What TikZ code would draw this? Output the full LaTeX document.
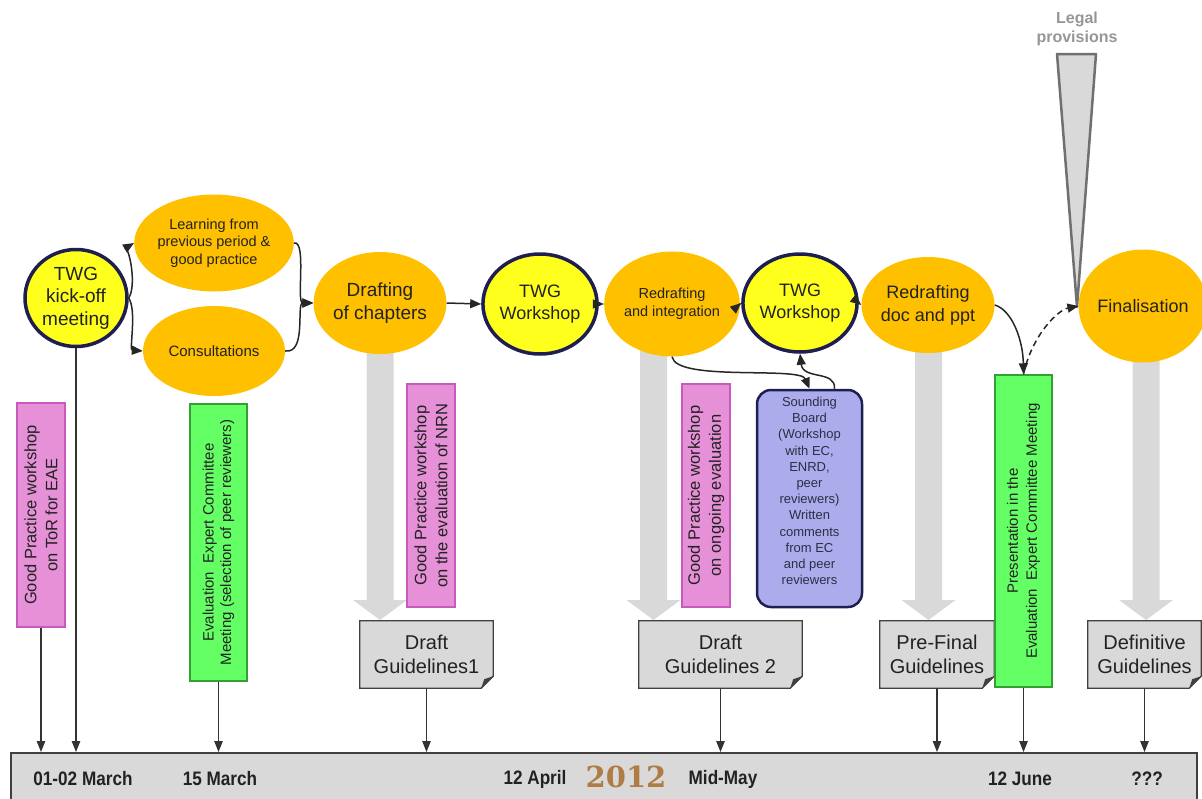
\documentclass[tikz,border=0pt]{standalone}
\usepackage{fontspec}
\setmainfont{Liberation Sans}
\newfontfamily\narrowfont[FakeStretch=0.88]{Liberation Sans}
\newfontfamily\yearfont{DejaVu Serif}
\usetikzlibrary{shapes.geometric,arrows.meta,backgrounds}
\definecolor{navy}{RGB}{30,30,80}
\definecolor{yel}{RGB}{255,255,30}
\definecolor{gold}{RGB}{255,192,0}
\definecolor{pinkf}{RGB}{230,145,215}
\definecolor{pinkd}{RGB}{200,90,190}
\definecolor{greenf}{RGB}{100,255,100}
\definecolor{greend}{RGB}{50,160,50}
\definecolor{lav}{RGB}{172,172,236}
\definecolor{lgray}{RGB}{217,217,217}
\definecolor{dgray}{RGB}{64,64,64}
\definecolor{tric}{RGB}{112,112,112}
\definecolor{yearc}{RGB}{176,124,70}
\definecolor{legalc}{RGB}{150,150,150}
\definecolor{txt}{RGB}{34,34,34}
\definecolor{sbtxt}{RGB}{45,45,70}
\newcommand\fs[2]{\fontsize{#1}{#2}\selectfont}
\newcommand\gblock[2]{\fill[lgray] ({#1-13.5},#2) -- ({#1+13.5},#2) -- ({#1+13.5},600) -- ({#1+27},600) -- (#1,620) -- ({#1-27},600) -- ({#1-13.5},600) -- cycle;}
\newcommand\docshape[1]{\begin{scope}[on background layer]
\filldraw[fill=lgray, draw=dgray, line width=1.3pt] (#1.north west) -- (#1.north east) -- ([yshift=12pt]#1.south east) -- ([xshift=-12pt]#1.south east) -- (#1.south west) -- cycle;
\fill[dgray] ([yshift=12pt]#1.south east) -- ([xshift=-12pt]#1.south east) -- ([xshift=-9pt,yshift=9pt]#1.south east) -- cycle;
\end{scope}}
\begin{document}
\begin{tikzpicture}[x=1pt,y=-1pt,
  yelnode/.style={ellipse, fill=yel, draw=navy, line width=3.5pt, inner sep=0pt, align=center, text=txt},
  ornode/.style={ellipse, fill=gold, inner sep=0pt, align=center, text=txt},
  arr/.style={-{Triangle[length=11pt,width=9pt]}, line width=1.5pt, draw=black!85},
  tlarr/.style={-{Triangle[length=11pt,width=8.5pt]}, line width=1.1pt, draw=black!80},
  vbox/.style={rectangle, rotate=90, align=center, inner sep=0pt, line width=1.5pt, text=txt},
  pinkbox/.style={vbox, fill=pinkf, draw=pinkd, font=\fs{16.5}{21}},
  greenbox/.style={vbox, fill=greenf, draw=greend, font=\fs{15}{18.5}},
  docnode/.style={rectangle, inner sep=0pt, align=center, text=txt, font=\fs{20}{24}},
  sbox/.style={rectangle, rounded corners=14pt, fill=lav, draw=navy, line width=2.5pt},
  timebar/.style={rectangle, fill=lgray, draw=dgray, line width=1.5pt},
  tlabel/.style={font=\narrowfont\bfseries\fs{19.5}{22}, text=txt, inner sep=0pt}]
\useasboundingbox (0,0) rectangle (1202,798);

% block arrows (behind)
\gblock{380}{320}
\gblock{653.5}{330}
\gblock{928.5}{330}
\gblock{1146}{340}

% legal provisions
\node[font=\bfseries\fs{16}{19}, text=legalc, align=center] (legal) at (1077,29) {Legal\\provisions};
\filldraw[fill=lgray, draw=tric, line width=2.5pt, line join=round] (1057,54) -- (1096,54) -- (1077,307) -- cycle;

% main nodes
\node[yelnode, minimum width=102pt, minimum height=97pt, font=\fs{19}{22.5}] (ko) at (76,298) {TWG\\kick-off\\meeting};
\node[ornode, minimum width=142pt, minimum height=97pt, font=\fs{14.5}{17.5}] (lrn) at (214,243) {Learning from\\previous period \&\\good practice};
\node[ornode, minimum width=142pt, minimum height=90pt, font=\fs{15}{18}] (con) at (214,351) {Consultations};
\node[ornode, minimum width=120pt, minimum height=102pt, font=\fs{19}{22.5}] (dr) at (380,303) {Drafting\\of chapters};
\node[yelnode, minimum width=114pt, minimum height=100pt, font=\fs{18}{22}] (w1) at (540,304) {TWG\\Workshop};
\node[ornode, minimum width=112pt, minimum height=105pt, font=\fs{14.5}{18}] (ri) at (672,304) {Redrafting\\and integration};
\node[yelnode, minimum width=104pt, minimum height=98pt, font=\fs{18}{22}] (w2) at (800,303) {TWG\\Workshop};
\node[ornode, minimum width=112pt, minimum height=96pt, font=\fs{18}{23}] (rd) at (928,305) {Redrafting\\doc and ppt};
\node[ornode, minimum width=110pt, minimum height=113pt, font=\fs{18}{22}] (fin) at (1143,306) {Finalisation};

% vertical boxes
\node[pinkbox, minimum width=224pt, minimum height=48pt] (p1) at (41,515) {Good Practice workshop\\on ToR for EAE};
\node[greenbox, minimum width=277pt, minimum height=57pt, font=\fs{15}{17.5}] (g1) at (218.5,542.5) {Evaluation~ Expert Committee\\Meeting (selection of peer reviewers)};
\node[pinkbox, minimum width=223pt, minimum height=48pt] (p2) at (431,495.5) {Good Practice workshop\\on the evaluation of NRN};
\node[pinkbox, minimum width=223pt, minimum height=48pt] (p3) at (706,495.5) {Good Practice workshop\\on ongoing evaluation};
\node[sbox, minimum width=105pt, minimum height=217pt] (sb) at (809.5,498.5) {};
\node[align=center, text=sbtxt, font=\fs{13}{16.2}, inner sep=0pt] (sbt) at (809.5,491) {Sounding\\Board\\(Workshop\\with EC,\\ENRD,\\peer\\reviewers)\\Written\\comments\\from EC\\and peer\\reviewers};

% documents
\node[docnode, minimum width=133pt, minimum height=67pt] (dg1) at (426.5,654.5) {Draft\\Guidelines1};
\docshape{dg1}
\node[docnode, minimum width=163pt, minimum height=67pt] (dg2) at (720.5,654.5) {Draft\\Guidelines 2};
\docshape{dg2}
\node[docnode, minimum width=114pt, minimum height=67pt] (pf) at (937,654.5) {Pre-Final\\Guidelines};
\docshape{pf}
\node[docnode, minimum width=113pt, minimum height=67pt] (dfn) at (1144.5,654.5) {Definitive\\Guidelines};
\docshape{dfn}

\node[greenbox, minimum width=312pt, minimum height=57pt, font=\fs{15}{19}] (g2) at (1023.5,531) {Presentation in the\\Evaluation~ Expert Committee Meeting};

% timeline
\node[timebar, anchor=north west, minimum width=1186pt, minimum height=60pt] (tl) at (10,752) {};
\node[tlabel] (t1) at (83,779) {01-02 March};
\node[tlabel] (t2) at (220,779) {15 March};
\node[tlabel] (t3) at (535,779) {12 April};
\node[font=\yearfont\bfseries\fs{29}{30}, text=yearc, inner sep=0pt] (yr) at (626,777) {2012};
\node[tlabel] (t4) at (723,779) {Mid-May};
\node[tlabel] (t5) at (1020,779) {12 June};
\node[tlabel] (t6) at (1147,779) {???};

% process connectors
\draw[arr] (ko.east) .. controls (137,285) and (129,246) .. (lrn.west);
\draw[arr] (ko.east) .. controls (137,311) and (129,350) .. (con.west);
\draw[arr] (lrn.east) .. controls (307,240) and (296,303) .. (dr.west);
\draw[arr] (con.east) .. controls (307,354) and (296,303) .. (dr.west);
\draw[arr] (dr.east) -- (w1.west);
\draw[arr] (w1.east) -- (ri.west);
\draw[arr] (ri.east) -- (w2.west);
\draw[arr] (w2.east) -- (rd.west);
\draw[arr] (ri.south) .. controls (676,382) and (800,366) .. (sb.north);
\draw[arr] ([xshift=25pt]sb.north) .. controls (836,370) and (803,380) .. (w2.south);
\draw[arr] (rd.east) .. controls (1012,310) and (1023,340) .. (g2.east);
\draw[arr, dash pattern=on 6pt off 4pt] (g2.east) .. controls (1032,335) and (1058,310) .. (fin.west);

% timeline connectors
\draw[tlarr] (p1.west) -- (p1.west |- tl.north);
\draw[tlarr] (ko.south) -- (ko.south |- tl.north);
\draw[tlarr] (g1.west) -- (g1.west |- tl.north);
\draw[tlarr] (dg1.south) -- (dg1.south |- tl.north);
\draw[tlarr] (dg2.south) -- (dg2.south |- tl.north);
\draw[tlarr] (pf.south) -- (pf.south |- tl.north);
\draw[tlarr] (g2.west) -- (g2.west |- tl.north);
\draw[tlarr] (dfn.south) -- (dfn.south |- tl.north);
\end{tikzpicture}
\end{document}
